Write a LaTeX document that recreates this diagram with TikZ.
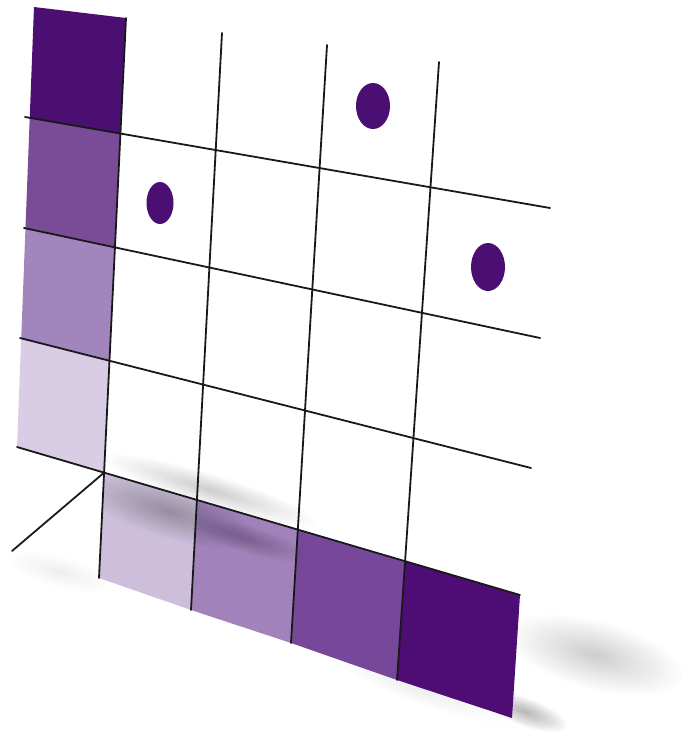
\documentclass[tikz,border=0pt]{standalone}
\definecolor{cA}{HTML}{4B0E73}
\definecolor{cB}{HTML}{7A4B96}
\definecolor{cC}{HTML}{A385BD}
\definecolor{cD}{HTML}{D9CCE5}
\definecolor{bA}{HTML}{CDBFDC}
\definecolor{bB}{HTML}{A282BA}
\definecolor{bC}{HTML}{77489A}
\definecolor{bD}{HTML}{4D0D74}
\tikzset{
  gridline/.style={line width=1.8pt, black!90, line cap=round},
  dot/.style={fill=cA}
}
% soft blurred blob: x, y, rx, ry, angle, opacity
\newcommand\sblob[6]{%
  \foreach \k in {1,...,16}{%
    \fill[black, opacity=#6/12, rotate around={#5:(#1,#2)}]
      (#1,#2) ellipse ({#3*\k/16} and {#4*\k/16});
  }}
\begin{document}
\begin{tikzpicture}[x=1pt,y=-1pt]
\useasboundingbox (0,0) rectangle (697,751);
% line end points
\coordinate (Ea) at (34,7);   \coordinate (Eb) at (17,447);
\coordinate (L1a) at (25,117); \coordinate (L1b) at (550,208);
\coordinate (L2a) at (24,228); \coordinate (L2b) at (540,338);
\coordinate (L3a) at (20,338); \coordinate (L3b) at (531,468);
\coordinate (L4a) at (17,447); \coordinate (L4b) at (520,595);
\coordinate (V0a) at (126,18); \coordinate (V0b) at (99,578);
\coordinate (V1a) at (222,33); \coordinate (V1b) at (191,610);
\coordinate (V2a) at (327,45); \coordinate (V2b) at (291,643);
\coordinate (V3a) at (439,62); \coordinate (V3b) at (397,680);
\coordinate (Rb) at (512,718);
\coordinate (Dg) at (12,551);
% intersections
\foreach \l in {1,2,3,4}{
  \coordinate (E\l) at (intersection of Ea--Eb and L\l a--L\l b);
  \coordinate (P0\l) at (intersection of V0a--V0b and L\l a--L\l b);
}
\coordinate (P14) at (intersection of V1a--V1b and L4a--L4b);
\coordinate (P24) at (intersection of V2a--V2b and L4a--L4b);
\coordinate (P34) at (intersection of V3a--V3b and L4a--L4b);
% outside shadows
\sblob{595}{655}{90}{34}{-15}{0.16}
\sblob{525}{712}{45}{14}{-20}{0.22}
\sblob{420}{690}{90}{14}{-20}{0.07}
\sblob{60}{572}{55}{16}{-15}{0.07}
% soft shadow on the wall just above the bottom line
\begin{scope}
\clip (P03) -- (P34) -- (L3b) -- (L4b) -- (P04) -- cycle;
\sblob{210}{490}{110}{16}{-17}{0.14}
\end{scope}
% left strip
\fill[cA] (Ea) -- (V0a) -- (P01) -- (E1) -- cycle;
\fill[cB] (E1) -- (P01) -- (P02) -- (E2) -- cycle;
\fill[cC] (E2) -- (P02) -- (P03) -- (E3) -- cycle;
\fill[cD] (E3) -- (P03) -- (P04) -- (E4) -- cycle;
% bottom strip
\fill[bA] (P04) -- (P14) -- (V1b) -- (V0b) -- cycle;
\fill[bB] (P14) -- (P24) -- (V2b) -- (V1b) -- cycle;
\fill[bC] (P24) -- (P34) -- (V3b) -- (V2b) -- cycle;
\fill[bD] (P34) -- (L4b) -- (Rb) -- (V3b) -- cycle;
% cast shadows on the bottom strip
\begin{scope}
\clip (P04) -- (L4b) -- (Rb) -- (V0b) -- cycle;
\sblob{170}{512}{90}{26}{-17}{0.20}
\sblob{250}{540}{60}{14}{-17}{0.16}
\end{scope}
% dots
\fill[dot] (160,203) ellipse (13.5 and 21);
\fill[dot] (373,106) ellipse (17 and 23);
\fill[dot] (488,267) ellipse (17 and 24);
% grid lines
\draw[gridline] (L1a) -- (L1b);
\draw[gridline] (L2a) -- (L2b);
\draw[gridline] (L3a) -- (L3b);
\draw[gridline] (L4a) -- (L4b);
\draw[gridline] (V0a) -- (V0b);
\draw[gridline] (V1a) -- (V1b);
\draw[gridline] (V2a) -- (V2b);
\draw[gridline] (V3a) -- (V3b);
\draw[gridline] (P04) -- (Dg);
\end{tikzpicture}
\end{document}
